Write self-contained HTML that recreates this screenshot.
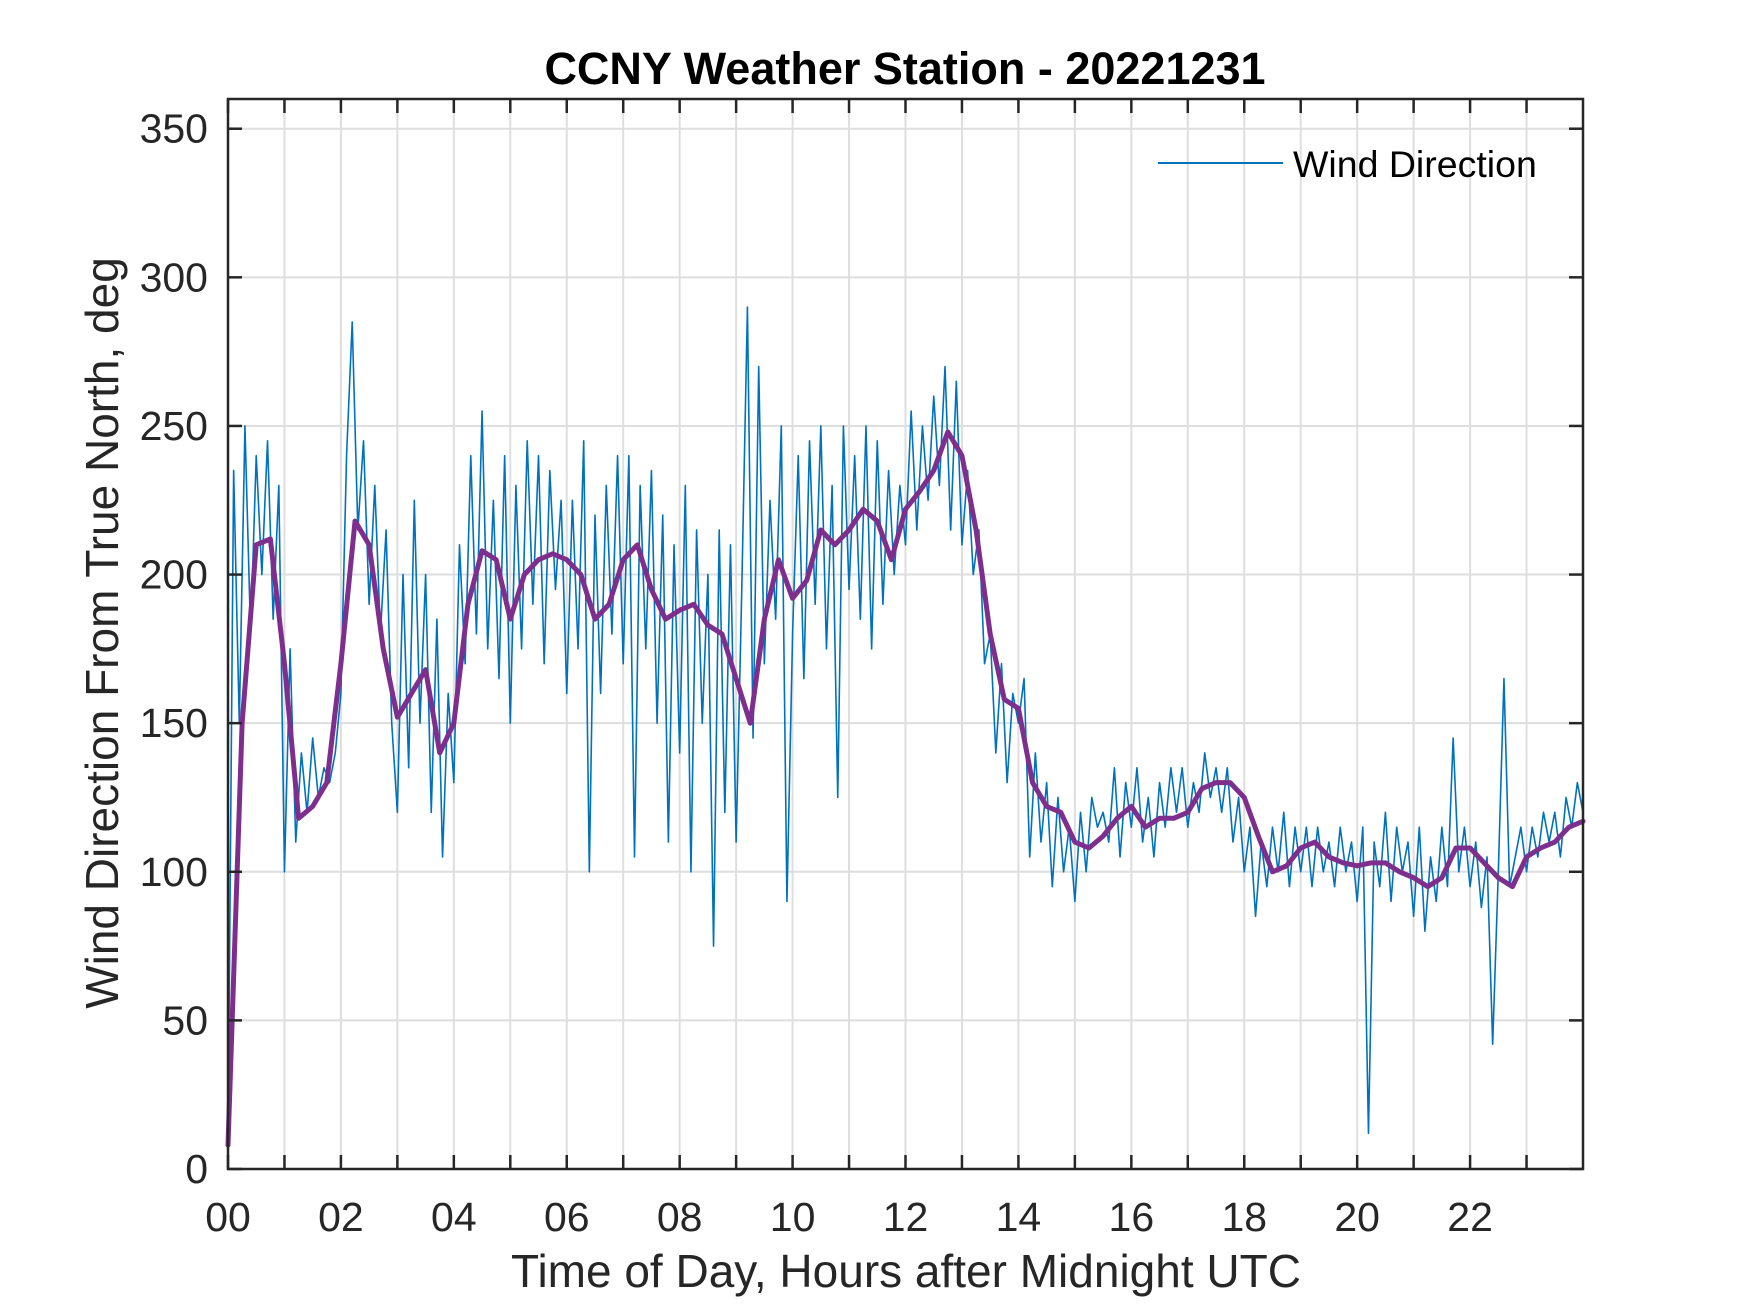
<!DOCTYPE html>
<html><head><meta charset="utf-8"><style>
html,body{margin:0;padding:0;background:#fff;}
svg{display:block;font-family:"Liberation Sans",Arial,sans-serif;}
</style></head><body>
<svg id="chart" width="1750" height="1313" viewBox="0 0 1750 1313" xmlns="http://www.w3.org/2000/svg">
<rect width="1750" height="1313" fill="#fff"/>
<g id="grid"></g>
<g id="series"></g>
<g id="axes"></g>
<text x="905" y="84" text-anchor="middle" font-size="45" font-weight="bold" fill="#000">CCNY Weather Station - 20221231</text>
<text x="906" y="1287" text-anchor="middle" font-size="46" fill="#262626">Time of Day, Hours after Midnight UTC</text>
<text transform="translate(118,633) rotate(-90)" text-anchor="middle" font-size="46" fill="#262626">Wind Direction From True North, deg</text>
<g>
<line x1="1158" y1="163" x2="1283" y2="163" stroke="#0072BD" stroke-width="2"/>
<text x="1293" y="177" font-size="37.5" fill="#000">Wind Direction</text>
</g>
</svg>
<script>
const xTickLabels = ["00","02","04","06","08","10","12","14","16","18","20","22"];
const yTickValues = [0,50,100,150,200,250,300,350];
const rawStep = 0.1;
const rawValues = [
8,235,150,250,180,240,200,245,185,230,
100,175,110,140,120,145,125,135,130,140,
160,240,285,215,245,190,230,180,215,150,
120,200,135,225,150,200,120,185,105,160,
130,210,170,240,180,255,175,225,165,240,
150,230,175,245,190,240,170,235,195,225,
160,225,175,245,100,220,160,230,180,240,
170,240,105,230,175,235,150,220,110,210,
140,230,100,215,150,200,75,215,120,210,
110,195,290,145,270,170,225,185,250,90,
180,240,165,245,190,250,175,230,125,250,
195,240,185,250,175,245,190,235,200,230,
210,255,215,250,225,260,230,270,215,265,
210,235,200,215,170,180,140,170,130,160,
150,165,105,140,110,130,95,125,100,115,
90,120,100,125,115,120,110,135,105,130,
115,135,110,125,105,130,115,135,120,135,
115,130,120,140,125,135,120,135,110,125,
100,115,85,110,95,115,100,120,95,115,
100,115,95,115,100,110,95,115,100,110,
90,115,12,110,95,120,90,115,100,110,
85,115,80,105,90,115,95,145,100,115,
95,110,88,105,42,100,165,95,105,115,
100,115,105,120,110,120,105,125,115,130,
120];
const smoothStep = 0.25;
const smoothValues = [
8,150,210,212,170,118,122,130,170,218,210,175,152,160,168,140,
150,190,208,205,185,200,205,207,205,200,185,190,205,210,195,185,
188,190,183,180,165,150,185,205,192,198,215,210,215,222,218,205,
222,228,235,248,240,215,180,158,155,130,122,120,110,108,112,118,
122,115,118,118,120,128,130,130,125,112,100,102,108,110,105,103,
102,103,103,100,98,95,98,108,108,103,98,95,105,108,110,115,117];

const L=228,R=1583,T=99,B=1169,XMAX=24,YMAX=360;
const xs=h=>L+(R-L)*h/XMAX;
const ys=v=>B-(B-T)*v/YMAX;
const NS="http://www.w3.org/2000/svg";
function mk(tag,attrs,parent){const e=document.createElementNS(NS,tag);for(const k in attrs)e.setAttribute(k,attrs[k]);parent.appendChild(e);return e;}
const grid=document.getElementById('grid'),axes=document.getElementById('axes'),series=document.getElementById('series');
for(let h=1;h<24;h++){
 const g=mk('line',{x1:xs(h),x2:xs(h),y1:T,y2:B,stroke:'#dedede','stroke-width':2},grid);
 
 
}
yTickValues.forEach(v=>{
 if(v>0){const g=mk('line',{x1:L,x2:R,y1:ys(v),y2:ys(v),stroke:'#dedede','stroke-width':2},grid);
 
 }
 const t=mk('text',{x:L-20,y:ys(v)+14,'text-anchor':'end','font-size':41,fill:'#262626'},axes);
 t.textContent=v;
 
 
 mk('line',{x1:L,x2:L+14,y1:ys(v),y2:ys(v),stroke:'#262626','stroke-width':2.5},axes);
 mk('line',{x1:R,x2:R-14,y1:ys(v),y2:ys(v),stroke:'#262626','stroke-width':2.5},axes);
});
for(let h=0;h<24;h++){
 mk('line',{x1:xs(h),x2:xs(h),y1:B,y2:B-14,stroke:'#262626','stroke-width':2.5},axes);
 mk('line',{x1:xs(h),x2:xs(h),y1:T,y2:T+14,stroke:'#262626','stroke-width':2.5},axes);
}
xTickLabels.forEach((lab,i)=>{
 const t=mk('text',{x:xs(i*2),y:1231,'text-anchor':'middle','font-size':41,fill:'#262626'},axes);
 t.textContent=lab;
 
 
});
const box=mk('rect',{x:L,y:T,width:R-L,height:B-T,fill:'none',stroke:'#262626','stroke-width':2.5},axes);


const raw=mk('polyline',{points:rawValues.map((v,i)=>xs(Math.min(i*rawStep,XMAX))+','+ys(v)).join(' '),fill:'none',stroke:'#0072BD','stroke-width':1.6,'stroke-linejoin':'round'},series);


const sm=mk('polyline',{points:smoothValues.map((v,i)=>xs(Math.min(i*smoothStep,XMAX))+','+ys(v)).join(' '),fill:'none',stroke:'#7E2F8E','stroke-width':5,'stroke-linejoin':'round','stroke-linecap':'round'},series);


</script>
</body></html>
